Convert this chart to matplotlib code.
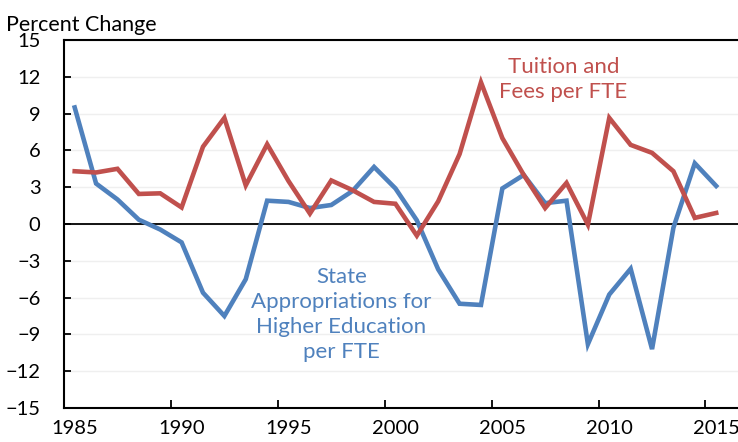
import numpy as np
import matplotlib.pyplot as plt
from matplotlib.ticker import FixedLocator, FixedFormatter, NullFormatter

plt.rcParams['font.family'] = ['Lato', 'DejaVu Sans']

# fiscal years, points drawn at mid-year
years = np.arange(1985, 2016)

state_approp = [9.5, 3.3, 2.0, 0.35, -0.45, -1.5, -5.6, -7.5, -4.5, 1.9,
                1.8, 1.3, 1.55, 2.7, 4.65, 2.9, 0.3, -3.7, -6.5, -6.6,
                2.9, 4.0, 1.7, 1.9, -9.8, -5.75, -3.65, -10.2, -0.3, 4.95,
                3.1]
tuition_fees = [4.3, 4.2, 4.5, 2.45, 2.5, 1.35, 6.3, 8.65, 3.15, 6.5,
                3.5, 0.85, 3.55, 2.75, 1.8, 1.65, -0.95, 1.85, 5.7, 11.55,
                7.0, 4.0, 1.3, 3.35, -0.05, 8.65, 6.45, 5.8, 4.3, 0.5,
                0.9]

tick_years = list(range(1985, 2020, 5))
blue = '#4F81BD'
red = '#C0504D'

fig = plt.figure(figsize=(7.38, 4.42), dpi=100)
ax = fig.add_axes([64/738, 34/442, 674/738, 368/442])

x = years + 0.5
ax.plot(x, state_approp, color=blue, lw=3.3, solid_joinstyle='miter', zorder=3)
ax.plot(x, tuition_fees, color=red, lw=3.3, solid_joinstyle='miter', zorder=3)
ax.axhline(0, color='black', lw=1.3, zorder=2)

ax.set_xlim(1985, 2016.52)
ax.set_ylim(-15, 15)
ax.set_yticks(np.arange(-15, 16, 3))
ax.grid(axis='y', color='#efefef', lw=1.0, zorder=0)

ax.xaxis.set_major_locator(FixedLocator(tick_years))
ax.xaxis.set_major_formatter(NullFormatter())
ax.xaxis.set_minor_locator(FixedLocator([y + 0.5 for y in tick_years]))
ax.xaxis.set_minor_formatter(FixedFormatter([str(y) for y in tick_years]))
ax.tick_params(axis='x', which='major', direction='in', length=5.5, width=1.3)
ax.tick_params(axis='x', which='minor', length=0, pad=9, labelsize=14.5)
ax.tick_params(axis='y', direction='in', length=5, width=1.3, pad=17, labelsize=14.5)

for s in ['left', 'top', 'bottom']:
    ax.spines[s].set_linewidth(1.5)
ax.spines['right'].set_visible(False)

fig.text(6/738, 1 - 31/442, 'Percent Change', fontsize=15.5, ha='left', va='baseline')

ax.text(1997.98, -7.4, 'State\nAppropriations for\nHigher Education\nper FTE',
        color=blue, fontsize=16, ha='center', va='center', linespacing=1.32)
ax.text(2008.36, 11.8, 'Tuition and\nFees per FTE',
        color=red, fontsize=16, ha='center', va='center', linespacing=1.32)

fig.savefig('out.png', dpi=100)
